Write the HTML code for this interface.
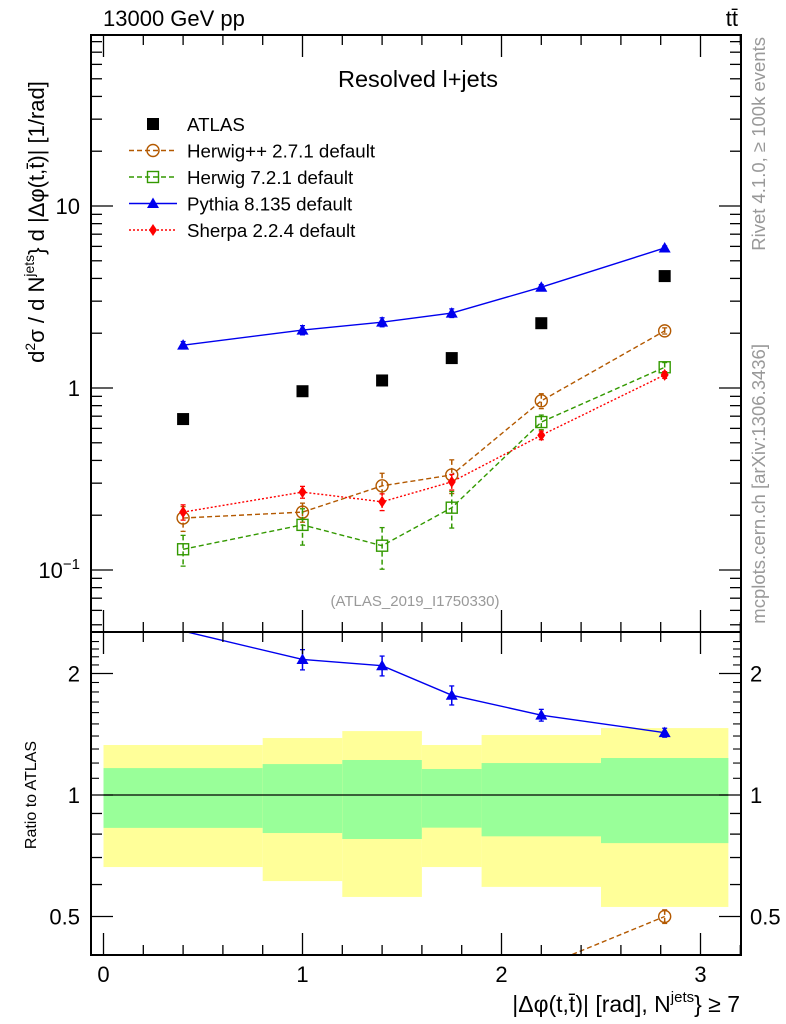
<!DOCTYPE html>
<html><head><meta charset="utf-8"><style>
html,body{margin:0;background:#fff;overflow:hidden;width:786px;height:1024px;}
svg{display:block;font-family:"Liberation Sans",sans-serif;}
</style></head><body>
<svg id="c" width="786" height="1024" viewBox="0 0 786 1024" xmlns="http://www.w3.org/2000/svg"></svg>
<script>
const xCenters=[0.4,1.0,1.4,1.75,2.2,2.82];
const binEdges=[0,0.8,1.2,1.6,1.9,2.5,3.14];
const atlas=[0.675,0.96,1.1,1.46,2.27,4.12];
const pythia=[1.72,2.08,2.30,2.58,3.58,5.88];
const pythiaErr=[0.08,0.12,0.13,0.14,0.12,0.15];
const herwigpp=[0.193,0.208,0.29,0.333,0.85,2.06];
const herwigppErr=[0.03,0.025,0.05,0.07,0.08,0.08];
const herwig7=[0.13,0.177,0.136,0.22,0.65,1.30];
const herwig7Err=[0.025,0.04,0.035,0.05,0.06,0.08];
const sherpa=[0.208,0.268,0.237,0.305,0.55,1.18];
const sherpaErr=[0.02,0.02,0.025,0.03,0.03,0.05];
const bandYelHi=[1.33,1.384,1.44,1.33,1.408,1.465];
const bandYelLo=[0.663,0.612,0.559,0.663,0.592,0.528];
const bandGrnHi=[1.166,1.193,1.221,1.16,1.2,1.235];
const bandGrnLo=[0.829,0.805,0.778,0.83,0.79,0.76];
const xTicks=[0,1,2,3];
const yMainTicks=[0.1,1,10];
const yRatioTicks=[0.5,1,2];

const S=document.getElementById('c');
const NS='http://www.w3.org/2000/svg';
function el(t,a,p){const e=document.createElementNS(NS,t);for(const k in a)e.setAttribute(k,a[k]);(p||S).appendChild(e);return e;}
const L=91,R=741,T=35,MB=632,RB=955;
const X=v=>103.5+v*199;
const Y=v=>388-Math.log10(v)*182;
const YR=v=>795-Math.log2(v)*121.5;

const defs=el('defs',{});
const c1=el('clipPath',{id:'cm'},defs);el('rect',{x:L,y:T,width:R-L,height:MB-T},c1);
const c2=el('clipPath',{id:'cr'},defs);el('rect',{x:L,y:MB,width:R-L,height:RB-MB},c2);

const gb=el('g',{'clip-path':'url(#cr)'});

for(let i=0;i<6;i++){
 const r1=el('rect',{x:X(binEdges[i]),y:YR(bandYelHi[i]),width:X(binEdges[i+1])-X(binEdges[i]),height:YR(bandYelLo[i])-YR(bandYelHi[i]),fill:'#ffff99'},gb);
 
 const r2=el('rect',{x:X(binEdges[i]),y:YR(bandGrnHi[i]),width:X(binEdges[i+1])-X(binEdges[i]),height:YR(bandGrnLo[i])-YR(bandGrnHi[i]),fill:'#99ff99'},gb);
 
}
el('line',{x1:X(0),x2:X(3.14),y1:YR(1),y2:YR(1),stroke:'#000','stroke-width':1.2},gb);

function marker(g,type,x,y,col){
 if(type==='sq')el('rect',{x:x-6,y:y-6,width:12,height:12,fill:'#000'},g);
 else if(type==='osq')el('rect',{x:x-5.5,y:y-5.5,width:11,height:11,fill:'none',stroke:col,'stroke-width':1.4},g);
 else if(type==='oc')el('circle',{cx:x,cy:y,r:6,fill:'none',stroke:col,'stroke-width':1.4},g);
 else if(type==='tri')el('polygon',{points:`${x},${y-6} ${x-6},${y+4.5} ${x+6},${y+4.5}`,fill:col},g);
 else if(type==='dia')el('polygon',{points:`${x},${y-6} ${x-4},${y} ${x},${y+6} ${x+4},${y}`,fill:col},g);
}
function series(name,vals,errs,col,dash,type,Yf,clip,ratio){
 const g=el('g',{'clip-path':clip});
 
 const v=ratio?vals.map((d,i)=>d/atlas[i]):vals;
 const e=ratio?errs.map((d,i)=>d/atlas[i]):errs;
 const pts=xCenters.map((x,i)=>X(x)+','+Yf(v[i])).join(' ');
 el('polyline',{points:pts,fill:'none',stroke:col,'stroke-width':1.4,'stroke-dasharray':dash},g);
 xCenters.forEach((x,i)=>{
  const yc=Yf(v[i]);
  if(ratio&&(yc<MB||yc>RB))return;
  const y1=Yf(v[i]+e[i]),y2=Yf(Math.max(v[i]-e[i],1e-3));
  el('line',{x1:X(x),x2:X(x),y1:y1,y2:y2,stroke:col,'stroke-width':1.5,'stroke-dasharray':dash},g);
  el('line',{x1:X(x)-2.5,x2:X(x)+2.5,y1:y1,y2:y1,stroke:col,'stroke-width':1.3},g);
  el('line',{x1:X(x)-2.5,x2:X(x)+2.5,y1:y2,y2:y2,stroke:col,'stroke-width':1.3},g);
  marker(g,type,X(x),yc,col);
 });
}
const BR='#b35900',GR='#339900',BL='#0000ee',RD='#ff0000';
series('herwigpp-series',herwigpp,herwigppErr,BR,'5,3','oc',Y,'url(#cm)');
series('herwig7-series',herwig7,herwig7Err,GR,'5,3','osq',Y,'url(#cm)');
series('pythia-series',pythia,pythiaErr,BL,'','tri',Y,'url(#cm)');
series('sherpa-series',sherpa,sherpaErr,RD,'2,2','dia',Y,'url(#cm)');
const ga=el('g',{});
xCenters.forEach((x,i)=>marker(ga,'sq',X(x),Y(atlas[i]),'#000'));
series('herwigpp-ratio',herwigpp,herwigppErr,BR,'5,3','oc',YR,'url(#cr)',true);
series('herwig7-ratio',herwig7,herwig7Err,GR,'5,3','osq',YR,'url(#cr)',true);
series('pythia-ratio',pythia,pythiaErr,BL,'','tri',YR,'url(#cr)',true);
series('sherpa-ratio',sherpa,sherpaErr,RD,'2,2','dia',YR,'url(#cr)',true);

el('rect',{x:L,y:T,width:R-L,height:MB-T,fill:'none',stroke:'#000','stroke-width':2});
el('rect',{x:L,y:MB,width:R-L,height:RB-MB,fill:'none',stroke:'#000','stroke-width':2});
for(let v=0;v<=3.2001;v+=0.2){
 const big=Math.abs(v-Math.round(v))<1e-6,len=big?22:10,x=X(v);
 if(x>R)continue;
 [[T,1],[MB,-1],[MB,1],[RB,-1]].forEach(([y,d])=>el('line',{x1:x,x2:x,y1:y,y2:y+d*len,stroke:'#000','stroke-width':1.3}));
}
xTicks.forEach(v=>{const t=el('text',{x:X(v),y:982,'font-size':22,'text-anchor':'middle'});t.textContent=v;});
for(let d=-2;d<=1;d++)for(let m=1;m<10;m++){
 const v=m*Math.pow(10,d),y=Y(v);if(y<T||y>MB)continue;
 const len=m===1?22:11;
 el('line',{x1:L,x2:L+len,y1:y,y2:y,stroke:'#000','stroke-width':1.3});
 el('line',{x1:R,x2:R-len,y1:y,y2:y,stroke:'#000','stroke-width':1.3});
}
yMainTicks.forEach(v=>{const t=el('text',{x:80,y:Y(v)+8,'font-size':22,'text-anchor':'end'});
 if(v===0.1){t.innerHTML='10<tspan dy="-9" font-size="15">−1</tspan>';}else t.textContent=v;
 });
[0.4,0.5,0.6,0.7,0.8,0.9,1,2].forEach(v=>{const y=YR(v);if(y<MB||y>RB)return;const len=(v===1||v===2||v===0.5)?22:11;
 el('line',{x1:L,x2:L+len,y1:y,y2:y,stroke:'#000','stroke-width':1.3});el('line',{x1:R,x2:R-len,y1:y,y2:y,stroke:'#000','stroke-width':1.3});});
for(let v=1.1;v<2.5;v+=0.1){if(Math.abs(v-2)<1e-6)continue;const y=YR(v);if(y<MB)continue;
 el('line',{x1:L,x2:L+8,y1:y,y2:y,stroke:'#000','stroke-width':1.1});el('line',{x1:R,x2:R-8,y1:y,y2:y,stroke:'#000','stroke-width':1.1});}
yRatioTicks.forEach(v=>{[[80,'end'],[750,'start']].forEach(([x,a])=>{const t=el('text',{x:x,y:YR(v)+8,'font-size':22,'text-anchor':a});t.textContent=v;});});

function txt(s,a,name,html){const t=el('text',a);if(html)t.innerHTML=s;else t.textContent=s;return t;}
txt('13000 GeV pp',{x:103,y:26,'font-size':22},'energy-label');
txt('tt̄',{x:738,y:26,'font-size':22,'text-anchor':'end'},'process-label');
txt('Resolved l+jets',{x:418,y:87,'font-size':23.5,'text-anchor':'middle'},'plot-title');
txt('(ATLAS_2019_I1750330)',{x:415,y:606,'font-size':15,'text-anchor':'middle',fill:'#999'},'analysis-id');
txt('d<tspan dy="-9" font-size="14">2</tspan><tspan dy="9">σ / d N</tspan><tspan dy="-10" font-size="14">jets</tspan><tspan dy="10">} d |Δφ(t,t̄)| [1/rad]</tspan>',{transform:'translate(44,222) rotate(-90)','font-size':22,'text-anchor':'middle'},'y-axis-title',true);
txt('Ratio to ATLAS',{transform:'translate(36,795) rotate(-90)','font-size':16,'text-anchor':'middle'},'ratio-axis-title');
txt('|Δφ(t,t̄)| [rad], N<tspan dy="-10" font-size="15">jets</tspan><tspan dy="10">} ≥ 7</tspan>',{x:740,y:1012,'font-size':23,'text-anchor':'end'},'x-axis-title',true);
txt('Rivet 4.1.0, ≥ 100k events',{transform:'translate(765,37) rotate(-90)','font-size':18.5,'text-anchor':'end',fill:'#999'},'rivet-label');
txt('mcplots.cern.ch [arXiv:1306.3436]',{transform:'translate(765,344) rotate(-90)','font-size':18.5,'text-anchor':'end',fill:'#999'},'mcplots-label');
const lg=el('g',{});
const leg=[['ATLAS','#000','','sq',false],['Herwig++ 2.7.1 default',BR,'5,3','oc',true],['Herwig 7.2.1 default',GR,'5,3','osq',true],['Pythia 8.135 default',BL,'','tri',true],['Sherpa 2.2.4 default',RD,'2,2','dia',true]];
leg.forEach((l,i)=>{const y=124+i*26.5;const g=el('g',{},lg);
 if(l[4])el('line',{x1:129,x2:177,y1:y,y2:y,stroke:l[1],'stroke-width':1.4,'stroke-dasharray':l[2]},g);
 marker(g,l[3],153,y,l[1]);
 const t=el('text',{x:187,y:y+7,'font-size':18.7},g);t.textContent=l[0];});
</script>
</body></html>
